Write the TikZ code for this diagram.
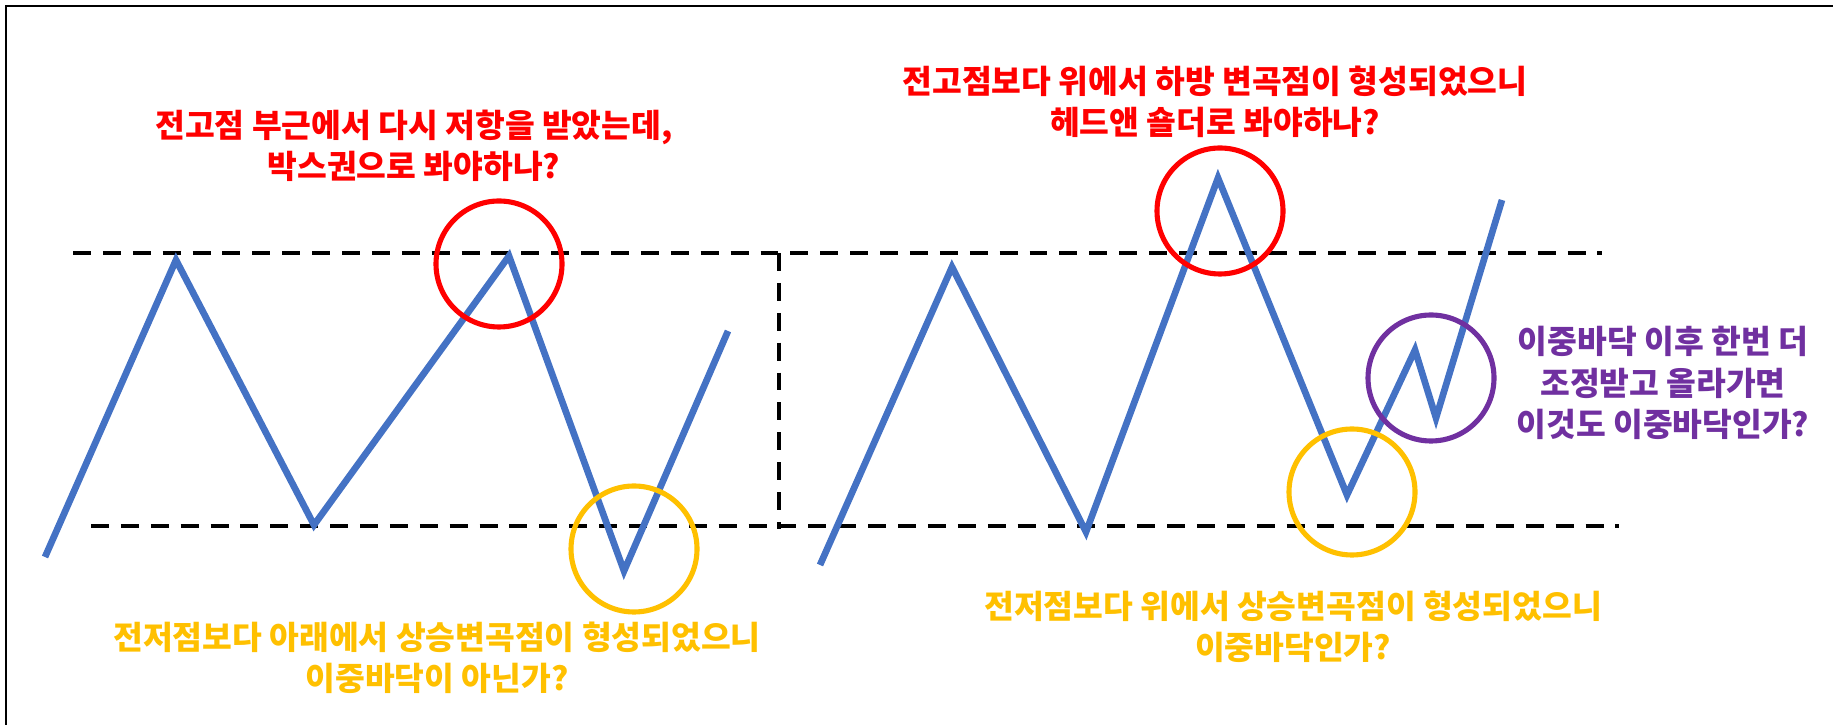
\documentclass[tikz,border=0pt]{standalone}
\usepackage{fontspec}
\usepackage{xcolor}
\usepackage{tikz}
\newfontfamily\krfont{Noto Sans CJK KR}
\definecolor{chartblue}{HTML}{4472C4}
\definecolor{hired}{HTML}{FF0000}
\definecolor{loyellow}{HTML}{FFC000}
\definecolor{dbpurple}{HTML}{7030A0}
\tikzset{
  level/.style={line width=1.15pt,dash pattern=on 5.1pt off 3.4pt},
  price/.style={chartblue,line width=1.9pt,line join=miter},
  mark ring/.style={line width=1.45pt},
  note/.style={align=center,font=\krfont\bfseries\fontsize{9.2}{11.8}\selectfont}
}

\begin{document}
\begin{tikzpicture}[x=0.01cm,y=-0.01cm]
\useasboundingbox (0,0) rectangle (1833,725);
\draw[line width=0.45pt] (6,725) -- (6,6) -- (1833,6);
% support / resistance levels
\draw[level] (73,253) -- (1602,253);
\draw[level] (91,526) -- (1619,526);
\draw[level] (779,253) -- (779,529);
% left chart
\draw[price] (45,557) -- (176,260) -- (314,525) -- (509,256) -- (624,571) -- (728,331);
\draw[mark ring,hired] (499,264) circle[radius=63];
\draw[mark ring,loyellow] (634,549) circle[radius=63];
% right chart
\draw[price] (820,565) -- (952,267) -- (1086,532) -- (1218,178) -- (1347,495)
  -- (1415,350) -- (1436,418) -- (1502,200);
\draw[mark ring,hired] (1220,211) circle[radius=63];
\draw[mark ring,loyellow] (1352,492) circle[radius=63];
\draw[mark ring,dbpurple] (1431,378) circle[radius=63];
% notes
\node[note,text=hired] (resleft) at (414,146)
  {전고점 부근에서 다시 저항을 받았는데,\\박스권으로 봐야하나?};
\node[note,text=loyellow] (supleft) at (437,658)
  {전저점보다 아래에서 상승변곡점이 형성되었으니\\이중바닥이 아닌가?};
\node[note,text=hired] (resright) at (1215,102)
  {전고점보다 위에서 하방 변곡점이 형성되었으니\\헤드앤 숄더로 봐야하나?};
\node[note,text=loyellow] (supright) at (1293,627)
  {전저점보다 위에서 상승변곡점이 형성되었으니\\이중바닥인가?};
\node[note,text=dbpurple] (retest) at (1663,383)
  {이중바닥 이후 한번 더\\조정받고 올라가면\\이것도 이중바닥인가?};
\end{tikzpicture}
\end{document}
